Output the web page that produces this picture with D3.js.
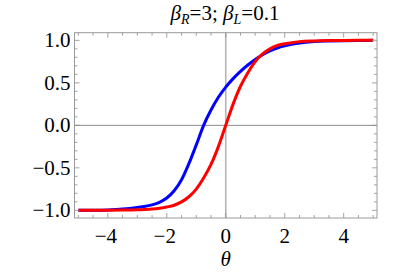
<!DOCTYPE html>
<html>
<head>
<meta charset="utf-8">
<script src="https://cdn.jsdelivr.net/npm/d3@7"></script>
<style>
  body { margin: 0; background: #fff; }
</style>
</head>
<body>
<div id="chart"></div>
<script>
// sample positions along theta
const thetas = [-5, -4.5, -4, -3.5, -3, -2.5, -2.25, -2, -1.75, -1.5, -1.25, -1, -0.75, -0.5, -0.25, 0,
                0.25, 0.5, 0.75, 1, 1.25, 1.5, 1.75, 2, 2.5, 3, 3.5, 4, 4.5, 5];

// values
const blueValues = [-1.0, -0.999, -0.995, -0.985, -0.965, -0.935, -0.905, -0.855, -0.77, -0.64, -0.45, -0.23, 0.0, 0.18, 0.33, 0.45,
                    0.55, 0.635, 0.71, 0.775, 0.83, 0.875, 0.91, 0.935, 0.968, 0.985, 0.992, 0.996, 0.998, 1.0];
const redValues = [-1.0, -1.0, -0.999, -0.997, -0.993, -0.985, -0.975, -0.96, -0.94, -0.90, -0.84, -0.75, -0.62, -0.46, -0.25, 0.0,
                   0.25, 0.46, 0.62, 0.75, 0.84, 0.90, 0.94, 0.96, 0.985, 0.993, 0.997, 0.999, 1.0, 1.0];

const xMajorTicks = [-4, -2, 0, 2, 4];
const yMajorTicks = [-1.0, -0.5, 0.0, 0.5, 1.0];

const width = 409;
const height = 274;
const frame = {l: 74.5, r: 377, t: 32.7, b: 218};
const serif = "'Liberation Serif', 'DejaVu Serif', 'Times New Roman', serif";

const svg = d3.select('#chart')
    .append('svg')
    .attr('width', width)
    .attr('height', height)
    .style('display', 'block');

const scaleX = d3.scaleLinear().domain([-5.13, 5.13]).range([frame.l, frame.r]);
const scaleY = d3.scaleLinear().domain([-1.09, 1.09]).range([frame.b, frame.t]);

// zero lines
svg.append('line')
    .attr('x1', scaleX(0)).attr('x2', scaleX(0))
    .attr('y1', frame.t).attr('y2', frame.b)
    .attr('stroke', '#b4b4b4').attr('stroke-width', 1.6);

svg.append('line')
    .attr('x1', frame.l).attr('x2', frame.r)
    .attr('y1', scaleY(0)).attr('y2', scaleY(0))
    .attr('stroke', '#8c8c8c').attr('stroke-width', 1);

// curves
const line = d3.line()
    .curve(d3.curveMonotoneX)
    .x(d => scaleX(d[0]))
    .y(d => scaleY(d[1]));

const series = [
    {values: blueValues, color: '#0000ff'},
    {values: redValues, color: '#ff0000'}
];

svg.append('g')
    .selectAll('path')
    .data(series)
    .join('path')
    .attr('fill', 'none')
    .attr('stroke', d => d.color)
    .attr('stroke-width', 3)
    .attr('d', d => line(thetas.map((t, i) => [t, d.values[i]])));

// frame ticks on all four sides
const xMinor = d3.range(-10, 11).map(i => i * 0.5);
const yMinor = d3.range(-10, 11).map(i => +(i * 0.1).toFixed(1));
const isMajor = (v, arr) => arr.some(m => Math.abs(m - v) < 1e-9);
const tickColor = '#8c8c8c';

function frameTicks(g, scale, values, majors, orient) {
    g.selectAll('line')
        .data(values)
        .join('line')
        .attr('stroke', tickColor)
        .attr('stroke-width', 0.8)
        .each(function(v) {
            const len = isMajor(v, majors) ? 5 : 3;
            const p = scale(v);
            const el = d3.select(this);
            if (orient === 'bottom') el.attr('x1', p).attr('x2', p).attr('y1', frame.b).attr('y2', frame.b - len);
            if (orient === 'top') el.attr('x1', p).attr('x2', p).attr('y1', frame.t).attr('y2', frame.t + len);
            if (orient === 'left') el.attr('y1', p).attr('y2', p).attr('x1', frame.l).attr('x2', frame.l + len);
            if (orient === 'right') el.attr('y1', p).attr('y2', p).attr('x1', frame.r).attr('x2', frame.r - len);
        });
}

frameTicks(svg.append('g'), scaleX, xMinor, xMajorTicks, 'bottom');
frameTicks(svg.append('g'), scaleX, xMinor, xMajorTicks, 'top');
frameTicks(svg.append('g'), scaleY, yMinor, yMajorTicks, 'left');
frameTicks(svg.append('g'), scaleY, yMinor, yMajorTicks, 'right');

svg.append('rect')
    .attr('x', frame.l).attr('y', frame.t)
    .attr('width', frame.r - frame.l).attr('height', frame.b - frame.t)
    .attr('fill', 'none')
    .attr('stroke', '#9a9a9a')
    .attr('stroke-width', 1);

// tick labels
const fmtY = v => (v < 0 ? '\u2212' : '') + Math.abs(v).toFixed(1);
const fmtX = v => (v < 0 ? '\u2212' : '') + Math.abs(v);

svg.append('g')
    .selectAll('text')
    .data(yMajorTicks)
    .join('text')
    .attr('x', frame.l - 4)
    .attr('y', d => scaleY(d) + 7)
    .attr('text-anchor', 'end')
    .style('font-family', serif)
    .attr('font-size', 21)
    .attr('fill', '#000')
    .text(fmtY);

svg.append('g')
    .selectAll('text')
    .data(xMajorTicks)
    .join('text')
    .attr('x', d => scaleX(d) + (d < 0 ? -2 : 0))
    .attr('y', 243)
    .attr('text-anchor', 'middle')
    .style('font-family', serif)
    .attr('font-size', 21)
    .attr('fill', '#000')
    .text(fmtX);

// axis label
svg.append('text')
    .attr('x', scaleX(0))
    .attr('y', 266)
    .attr('text-anchor', 'middle')
    .style('font-family', serif)
    .attr('font-size', 21)
    .attr('font-style', 'italic')
    .text('\u03b8');

// title
const title = svg.append('text')
    .attr('x', 225)
    .attr('y', 20)
    .attr('text-anchor', 'middle')
    .style('font-family', serif)
    .attr('font-size', 21);

title.append('tspan').attr('font-style', 'italic').text('\u03b2');
title.append('tspan').attr('font-style', 'italic').attr('font-size', 14).attr('dy', 4).text('R');
title.append('tspan').attr('dy', -4).text('=3; ');
title.append('tspan').attr('font-style', 'italic').text('\u03b2');
title.append('tspan').attr('font-style', 'italic').attr('font-size', 14).attr('dy', 4).text('L');
title.append('tspan').attr('dy', -4).text('=0.1');
</script>
</body>
</html>
